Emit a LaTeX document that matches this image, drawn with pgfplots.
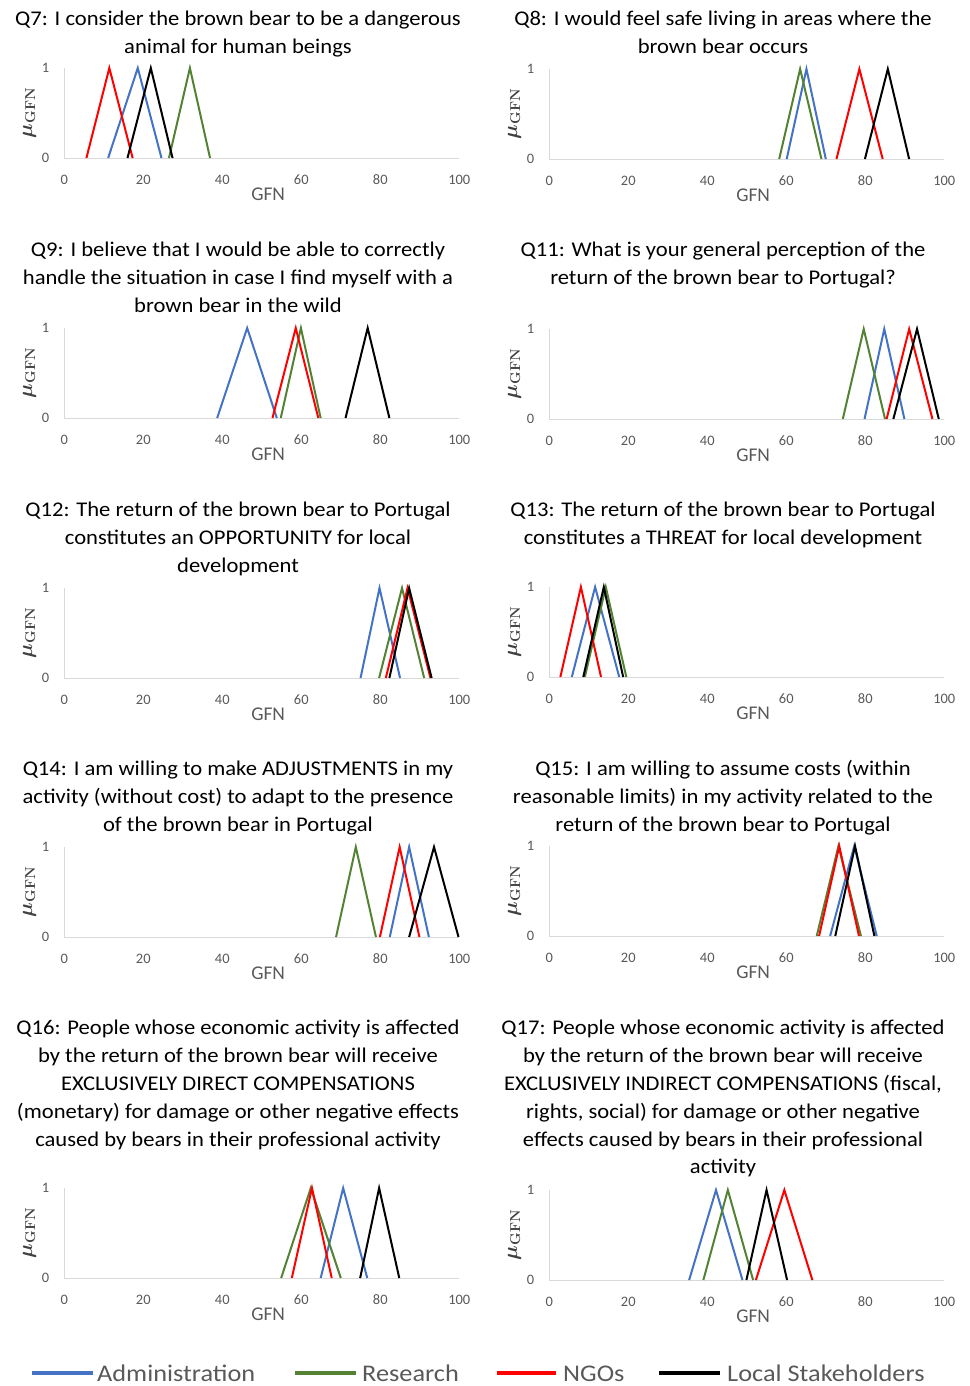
\documentclass[border=0pt]{standalone}
\usepackage[no-math]{fontspec}
\setmainfont{Carlito}
\usepackage{bm}
\usepackage{graphicx}
\usepackage{pgfplots}
\pgfplotsset{compat=1.18}
\definecolor{adm}{HTML}{4472C4}
\definecolor{res}{HTML}{548235}
\definecolor{ngo}{HTML}{FF0000}
\definecolor{loc}{HTML}{000000}
\definecolor{axgray}{HTML}{D9D9D9}
\definecolor{txgray}{HTML}{595959}
\definecolor{mugray}{HTML}{404040}
\newcommand{\mulabel}{$\bm{\mu}_{\bm{\mathrm{GFN}}}$}
\pgfplotsset{
  panel/.style={
    scale only axis, width=395bp, height=90bp, anchor=south west,
    xmin=0, xmax=100, ymin=0, ymax=1, clip=false,
    xtick={0,20,40,60,80,100}, ytick={0,1},
    axis x line*=bottom, axis y line*=left,
    axis line style={draw=axgray, line width=0.9bp, -},
    major tick length=0pt,
    /pgf/number format/assume math mode=true,
    tick label style={font=\fontsize{14.5}{16}\selectfont, text=txgray, inner sep=0pt},
    xticklabel style={anchor=base, yshift=-26bp},
    yticklabel style={anchor=east, xshift=-15bp},
    xlabel={GFN},
    xlabel style={at={(axis description cs:0.516,0)}, anchor=north, yshift=-30bp, inner sep=0pt,
      font=\fontsize{19.5}{21}\selectfont, text=txgray},
    ylabel={\mulabel},
    ylabel style={at={(axis description cs:-0.088,0.5)}, anchor=center, rotate=0, inner sep=0pt,
      font=\fontsize{22}{24}\selectfont, text=mugray},
  },
  A/.style={color=adm, line width=2bp, no markers},
  R/.style={color=res, line width=2bp, no markers},
  N/.style={color=ngo, line width=2bp, no markers},
  L/.style={color=loc, line width=2bp, no markers},
}
\newcommand{\ttl}[3]{\node[anchor=base, inner sep=0pt, font=\fontsize{21}{24}\selectfont] at (#1bp,-#2bp) {\scalebox{1.08}[1]{#3}};}
\newcommand{\leg}[5]{%
  \draw[#1, line width=3.6bp] (#2bp,-1373bp) -- (#3bp,-1373bp);
  \node[anchor=base west, inner sep=0pt, font=\fontsize{24}{26}\selectfont, text=txgray] at (#4bp,-1381bp) {\scalebox{1.1}[1]{#5}};}
\begin{document}
\begin{tikzpicture}
\path[use as bounding box] (0,0) rectangle (970bp,-1386bp);

% Titles
\ttl{238}{25}{Q7: I consider the brown bear to be a dangerous}
\ttl{238}{53}{animal for human beings}
\ttl{723}{25}{Q8: I would feel safe living in areas where the}
\ttl{723}{53}{brown bear occurs}
\ttl{238}{256}{Q9: I believe that I would be able to correctly}
\ttl{238}{284}{handle the situation in case I find myself with a}
\ttl{238}{312}{brown bear in the wild}
\ttl{723}{256}{Q11: What is your general perception of the}
\ttl{723}{284}{return of the brown bear to Portugal?}
\ttl{238}{516}{Q12: The return of the brown bear to Portugal}
\ttl{238}{544}{constitutes an OPPORTUNITY for local}
\ttl{238}{572}{development}
\ttl{723}{516}{Q13: The return of the brown bear to Portugal}
\ttl{723}{544}{constitutes a THREAT for local development}
\ttl{238}{775}{Q14: I am willing to make ADJUSTMENTS in my}
\ttl{238}{803}{activity (without cost) to adapt to the presence}
\ttl{238}{831}{of the brown bear in Portugal}
\ttl{723}{775}{Q15: I am willing to assume costs (within}
\ttl{723}{803}{reasonable limits) in my activity related to the}
\ttl{723}{831}{return of the brown bear to Portugal}
\ttl{238}{1034}{Q16: People whose economic activity is affected}
\ttl{238}{1062}{by the return of the brown bear will receive}
\ttl{238}{1090}{EXCLUSIVELY DIRECT COMPENSATIONS}
\ttl{238}{1118}{(monetary) for damage or other negative effects}
\ttl{238}{1146}{caused by bears in their professional activity}
\ttl{723}{1034}{Q17: People whose economic activity is affected}
\ttl{723}{1062}{by the return of the brown bear will receive}
\ttl{723}{1090}{EXCLUSIVELY INDIRECT COMPENSATIONS (fiscal,}
\ttl{723}{1118}{rights, social) for damage or other negative}
\ttl{723}{1146}{effects caused by bears in their professional}
\ttl{723}{1173}{activity}

% Q7
\begin{axis}[panel, at={(64.3bp,-158bp)}]
\addplot[A] coordinates {(11.1,0) (18.6,1) (24.6,0)};
\addplot[R] coordinates {(26.5,0) (31.8,1) (36.9,0)};
\addplot[N] coordinates {(5.6,0) (11.4,1) (17.3,0)};
\addplot[L] coordinates {(16.0,0) (21.9,1) (27.4,0)};
\end{axis}
% Q8
\begin{axis}[panel, at={(549.3bp,-159bp)}]
\addplot[A] coordinates {(60.1,0) (65.1,1) (70.0,0)};
\addplot[R] coordinates {(58.2,0) (63.5,1) (68.9,0)};
\addplot[N] coordinates {(72.7,0) (78.5,1) (84.4,0)};
\addplot[L] coordinates {(79.9,0) (85.7,1) (91.1,0)};
\end{axis}
% Q9
\begin{axis}[panel, at={(64.3bp,-418bp)}]
\addplot[A] coordinates {(38.7,0) (46.3,1) (53.8,0)};
\addplot[R] coordinates {(54.8,0) (59.9,1) (64.9,0)};
\addplot[N] coordinates {(52.7,0) (58.6,1) (64.3,0)};
\addplot[L] coordinates {(71.2,0) (76.8,1) (82.3,0)};
\end{axis}
% Q11
\begin{axis}[panel, at={(549.3bp,-419bp)}]
\addplot[A] coordinates {(79.8,0) (84.8,1) (89.9,0)};
\addplot[R] coordinates {(74.3,0) (79.6,1) (85.0,0)};
\addplot[N] coordinates {(85.4,0) (91.1,1) (97.0,0)};
\addplot[L] coordinates {(87.1,0) (93.1,1) (98.6,0)};
\end{axis}
% Q12
\begin{axis}[panel, at={(64.3bp,-678bp)}]
\addplot[A] coordinates {(75.0,0) (79.8,1) (85.0,0)};
\addplot[R] coordinates {(79.7,0) (85.5,1) (91.1,0)};
\addplot[N] coordinates {(81.4,0) (86.9,1) (92.7,0)};
\addplot[L] coordinates {(82.3,0) (87.3,1) (93.0,0)};
\end{axis}
% Q13
\begin{axis}[panel, at={(549.3bp,-677bp)}]
\addplot[A] coordinates {(5.7,0) (11.6,1) (17.7,0)};
\addplot[R] coordinates {(9.0,0) (14.3,1) (19.5,0)};
\addplot[N] coordinates {(2.8,0) (8.0,1) (13.1,0)};
\addplot[L] coordinates {(8.6,0) (13.8,1) (18.7,0)};
\end{axis}
% Q14
\begin{axis}[panel, at={(64.3bp,-937bp)}]
\addplot[A] coordinates {(82.4,0) (87.3,1) (92.3,0)};
\addplot[R] coordinates {(68.8,0) (73.8,1) (78.9,0)};
\addplot[N] coordinates {(79.9,0) (84.9,1) (89.9,0)};
\addplot[L] coordinates {(87.3,0) (93.6,1) (99.8,0)};
\end{axis}
% Q15
\begin{axis}[panel, at={(549.3bp,-936bp)}]
\addplot[A] coordinates {(71.1,0) (77.2,1) (82.9,0)};
\addplot[R] coordinates {(67.7,0) (73.2,1) (78.9,0)};
\addplot[N] coordinates {(68.3,0) (73.4,1) (78.4,0)};
\addplot[L] coordinates {(72.4,0) (77.4,1) (82.3,0)};
\end{axis}
% Q16
\begin{axis}[panel, at={(64.3bp,-1278bp)}]
\addplot[A] coordinates {(64.9,0) (70.6,1) (76.7,0)};
\addplot[R] coordinates {(54.9,0) (62.4,1) (70.0,0)};
\addplot[N] coordinates {(57.6,0) (62.7,1) (67.7,0)};
\addplot[L] coordinates {(74.9,0) (79.7,1) (84.8,0)};
\end{axis}
% Q17
\begin{axis}[panel, at={(549.3bp,-1280bp)}]
\addplot[A] coordinates {(35.4,0) (42.2,1) (48.9,0)};
\addplot[R] coordinates {(39.0,0) (45.2,1) (51.6,0)};
\addplot[N] coordinates {(52.3,0) (59.5,1) (66.6,0)};
\addplot[L] coordinates {(49.9,0) (55.0,1) (60.2,0)};
\end{axis}

% Legend
\leg{adm}{32}{93}{97}{Administration}
\leg{res}{295}{356}{362}{Research}
\leg{ngo}{497}{556}{563}{NGOs}
\leg{loc}{659}{720}{727}{Local Stakeholders}
\end{tikzpicture}
\end{document}
